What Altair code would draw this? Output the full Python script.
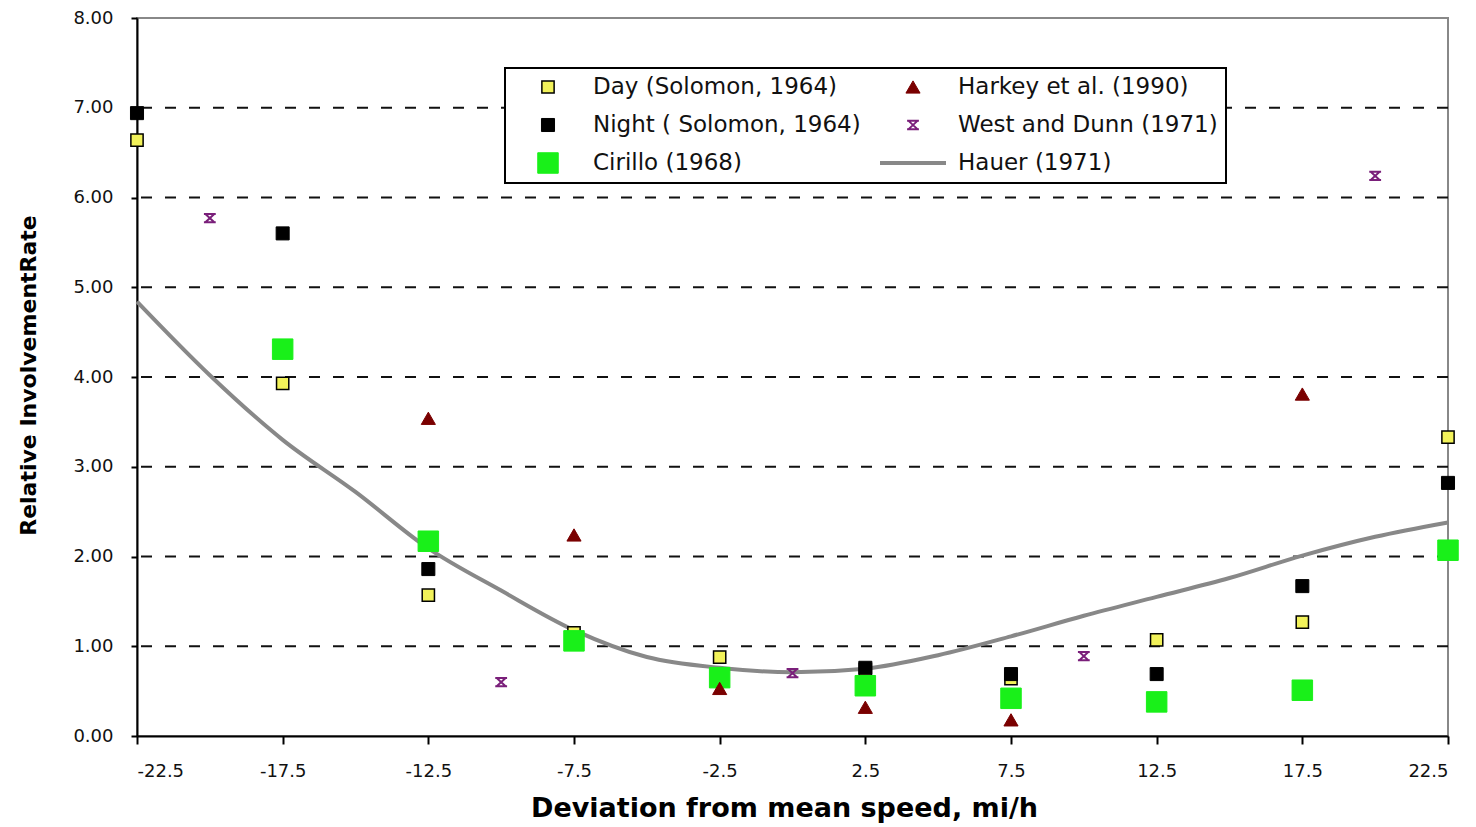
import altair as alt
import pandas as pd

# ---- data ----
series_order = ["Day (Solomon, 1964)", "Night ( Solomon, 1964)", "Cirillo (1968)",
                "Harkey et al. (1990)", "West and Dunn (1971)", "Hauer (1971)"]

x_main = [-22.5, -17.5, -12.5, -7.5, -2.5, 2.5, 7.5, 12.5, 17.5, 22.5]
day_vals = [6.64, 3.93, 1.57, 1.15, 0.88, 0.74, 0.64, 1.07, 1.27, 3.33]
night_vals = [6.94, 5.60, 1.86, 1.05, 0.64, 0.76, 0.69, 0.69, 1.67, 2.82]

x_cirillo = [-17.5, -12.5, -7.5, -2.5, 2.5, 7.5, 12.5, 17.5, 22.5]
cirillo_vals = [4.31, 2.17, 1.06, 0.65, 0.56, 0.42, 0.38, 0.51, 2.07]

x_harkey = [-12.5, -7.5, -2.5, 2.5, 7.5, 17.5]
harkey_vals = [3.54, 2.24, 0.53, 0.32, 0.18, 3.81]

x_west = [-20, -10, 0, 10, 20]
west_vals = [5.77, 0.60, 0.70, 0.89, 6.24]

x_hauer = [-22.5, -20, -17.5, -15, -12.5, -10, -7.5, -5, -2.5, 0,
           2.5, 5, 7.5, 10, 12.5, 15, 17.5, 20, 22.5]
hauer_vals = [4.84, 4.02, 3.30, 2.72, 2.09, 1.62, 1.18, 0.88, 0.76, 0.71,
              0.75, 0.90, 1.11, 1.34, 1.55, 1.76, 2.01, 2.22, 2.38]

x_ticks = [-22.5, -17.5, -12.5, -7.5, -2.5, 2.5, 7.5, 12.5, 17.5, 22.5]
y_ticks = [0, 1, 2, 3, 4, 5, 6, 7, 8]
grid_vals = [1, 2, 3, 4, 5, 6, 7]

# ---- styling per series (in legend order) ----
fills = ["#f2f25a", "#000000", "#19f019", "#7a0000", "#7a1f7a", "#888888"]
strokes = ["#000000", "#000000", "#19f019", "#7a0000", "#7a1f7a", "#888888"]
star_path = "M-1,-0.7L1,-0.7M-1,0.7L1,0.7M-0.75,-0.7L0.75,0.7M0.75,-0.7L-0.75,0.7"
shapes = ["square", "square", "square", "triangle-up", star_path, "stroke"]
sizes = [150, 170, 420, 200, 140, 4356]
stroke_ws = [1.5, 1, 1, 1, 2, 4]

# ---- tables ----
rows = []
for name, xs, ys in [
    (series_order[0], x_main, day_vals),
    (series_order[1], x_main, night_vals),
    (series_order[2], x_cirillo, cirillo_vals),
    (series_order[3], x_harkey, harkey_vals),
    (series_order[4], x_west, west_vals),
]:
    for xv, yv in zip(xs, ys):
        rows.append({"series": name, "x": xv, "y": yv})
pts = pd.DataFrame(rows)
pts["order"] = range(len(pts))

hauer = pd.DataFrame({"x": x_hauer, "y": hauer_vals})
grid = pd.DataFrame({"y": grid_vals})

xscale = alt.Scale(domain=[-22.5, 22.5], nice=False, zero=False)
yscale = alt.Scale(domain=[0, 8], nice=False)

x_axis = alt.Axis(
    values=x_ticks,
    labelExpr="datum.value < 0 ? '-' + format(-datum.value, '.1f') : format(datum.value, '.1f')",
    title="Deviation from mean speed, mi/h",
    titleX=647, titleY=72, titleBaseline="middle", titleAlign="center",
    titleFontSize=27, titleFont="DejaVu Sans", titleFontWeight="bold", titleColor="#000",
    labelFont="DejaVu Sans", labelFontSize=18, labelColor="#111",
    tickSize=8, labelPadding=18, grid=False,
)
y_axis = alt.Axis(
    values=y_ticks, format=".2f",
    title="Relative InvolvementRate",
    titleX=-109, titleY=357, titleAngle=270, titleBaseline="middle", titleAlign="center",
    titleFontSize=22, titleFont="DejaVu Sans", titleFontWeight="bold", titleColor="#000",
    labelFont="DejaVu Sans", labelFontSize=18, labelColor="#111",
    tickSize=6, labelPadding=18, grid=False,
)

gridlines = alt.Chart(grid).mark_rule(
    color="#111", strokeWidth=2, strokeDash=[11, 13]
).encode(y=alt.Y("y:Q", scale=yscale, axis=y_axis))

line = alt.Chart(hauer).mark_line(
    color="#888888", strokeWidth=4, interpolate="monotone"
).encode(
    x=alt.X("x:Q", scale=xscale, axis=x_axis),
    y=alt.Y("y:Q", scale=yscale, axis=y_axis),
)

legend = alt.Legend(
    title=None, orient="none", legendX=368, legendY=50, columns=2,
    direction="vertical",
    labelFont="DejaVu Sans", labelFontSize=23, labelColor="#111", labelLimit=500,
    labelOffset=10, clipHeight=22, rowPadding=15, columnPadding=17,
    padding=8, strokeColor="#000", fillColor="#ffffff",
    symbolOpacity=1,
)

points = alt.Chart(pts).mark_point(filled=True, opacity=1).encode(
    x=alt.X("x:Q", scale=xscale, axis=x_axis),
    y=alt.Y("y:Q", scale=yscale, axis=y_axis),
    shape=alt.Shape("series:N", scale=alt.Scale(domain=series_order, range=shapes), legend=legend),
    fill=alt.Fill("series:N", scale=alt.Scale(domain=series_order, range=fills), legend=legend),
    stroke=alt.Stroke("series:N", scale=alt.Scale(domain=series_order, range=strokes), legend=legend),
    size=alt.Size("series:N", scale=alt.Scale(type="ordinal", domain=series_order, range=sizes), legend=legend),
    strokeWidth=alt.StrokeWidth("series:N", scale=alt.Scale(type="ordinal", domain=series_order, range=stroke_ws), legend=legend),
    order=alt.Order("order:Q"),
)

chart = alt.layer(gridlines, line, points).properties(
    width=1311, height=718,
    autosize=alt.AutoSizeParams(type="none"),
    padding={"left": 129, "top": 10, "right": 20, "bottom": 90},
    background="#ffffff",
).configure_view(
    stroke="#888888", strokeWidth=2
).configure_axis(
    domainColor="#000", domainWidth=2, tickColor="#000", tickWidth=2,
).configure_legend(
    strokeWidth=2
)

chart.save("out.html", embed_options={"renderer": "svg", "actions": False})
